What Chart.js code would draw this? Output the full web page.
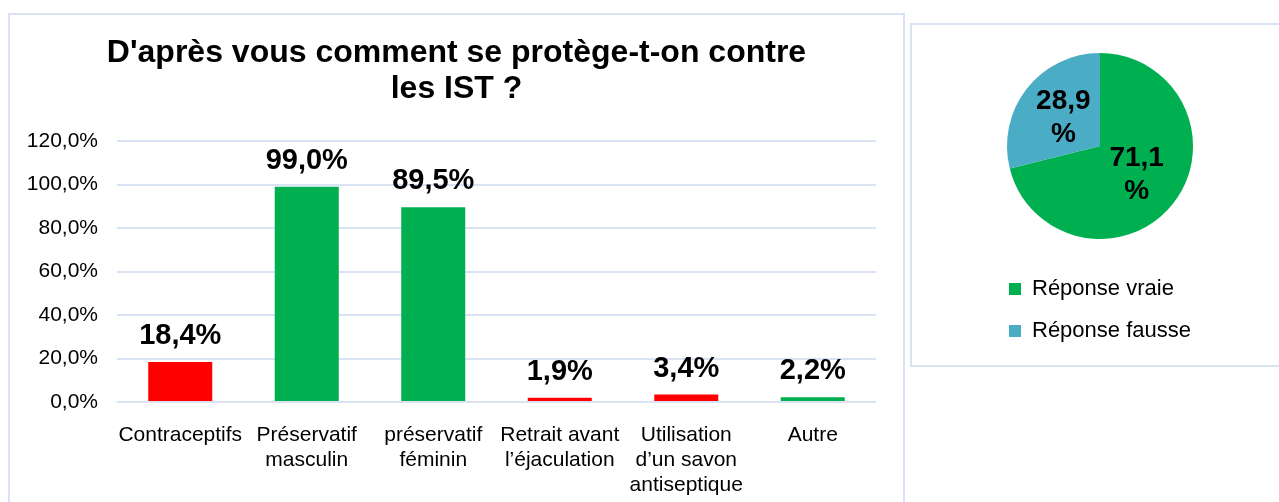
<!DOCTYPE html>
<html>
<head>
<meta charset="utf-8">
<script src="https://cdn.jsdelivr.net/npm/chart.js@4/dist/chart.umd.min.js"></script>
<style>
  body { margin: 0; background: #fff; width: 1279px; height: 502px; overflow: hidden; position: relative; }
  .box { position: absolute; border: 2px solid #dae3f3; box-sizing: border-box; }
  canvas { position: absolute; }
</style>
</head>
<body>
<div class="box" style="left:8px; top:13px; width:897px; height:520px;"></div>
<div class="box" style="left:910px; top:23px; width:400px; height:344px;"></div>
<canvas id="barChart" width="897" height="488" style="left:8px; top:14px;"></canvas>
<canvas id="pieChart" width="222" height="318" style="left:989px; top:34px;"></canvas>
<script>
// Data
const categories = [
  'Contraceptifs',
  ['Préservatif', 'masculin'],
  ['préservatif', 'féminin'],
  ['Retrait avant', 'l’éjaculation'],
  ['Utilisation', 'd’un savon', 'antiseptique'],
  'Autre'
];
const percentages = [18.4, 99.0, 89.5, 1.9, 3.4, 2.2];
const barColors = ['#ff0000', '#00b050', '#00b050', '#ff0000', '#ff0000', '#00b050'];
const yTicks = [0, 20, 40, 60, 80, 100, 120];

const pieLabels = ['Réponse vraie', 'Réponse fausse'];
const pieValues = [71.1, 28.9];
const pieColors = ['#00b050', '#4bacc6'];

const fmt = v => v.toFixed(1).replace('.', ',') + '%';

Chart.defaults.font.family = 'Arial, "Liberation Sans", sans-serif';
Chart.defaults.color = '#000';

// value labels above the bars
const barLabels = {
  id: 'barLabels',
  afterDatasetsDraw(chart) {
    const ctx = chart.ctx;
    ctx.save();
    ctx.font = 'bold 29px Arial, "Liberation Sans", sans-serif';
    ctx.fillStyle = '#000';
    ctx.textAlign = 'center';
    ctx.textBaseline = 'alphabetic';
    chart.getDatasetMeta(0).data.forEach((bar, i) => {
      ctx.fillText(fmt(percentages[i]), bar.x, bar.y - 18);
    });
    ctx.restore();
  }
};

// labels inside the pie slices
const pieText = {
  id: 'pieText',
  afterDatasetsDraw(chart) {
    const ctx = chart.ctx;
    ctx.save();
    ctx.font = 'bold 28px Arial, "Liberation Sans", sans-serif';
    ctx.fillStyle = '#000';
    ctx.textAlign = 'center';
    ctx.textBaseline = 'middle';
    chart.getDatasetMeta(0).data.forEach((arc, i) => {
      const p = arc.tooltipPosition();
      ctx.fillText(pieValues[i].toFixed(1).replace('.', ','), p.x, p.y - 16);
      ctx.fillText('%', p.x, p.y + 17);
    });
    ctx.restore();
  }
};

new Chart(document.getElementById('barChart'), {
  type: 'bar',
  data: {
    labels: categories,
    datasets: [{
      data: percentages,
      backgroundColor: barColors,
      categoryPercentage: 1,
      barPercentage: 0.506
    }]
  },
  options: {
    responsive: false,
    animation: false,
    events: [],
    layout: { padding: 0 },
    plugins: {
      legend: { display: false },
      tooltip: { enabled: false },
      title: {
        display: true,
        text: ["D'après vous comment se protège-t-on contre", 'les IST ?'],
        color: '#000',
        font: { size: 32, weight: 'bold', lineHeight: 1.125 },
        padding: { top: 21, bottom: 34 }
      }
    },
    scales: {
      x: {
        grid: { display: false },
        border: { display: false },
        ticks: {
          padding: 13,
          maxRotation: 0,
          autoSkip: false,
          font: { size: 21, lineHeight: 1.19 }
        },
        afterFit: s => { s.height = 100; }
      },
      y: {
        min: 0,
        max: 120,
        afterBuildTicks: s => { s.ticks = yTicks.map(v => ({ value: v })); },
        grid: { color: '#dae3f3', lineWidth: 2, drawTicks: false },
        border: { display: false },
        ticks: {
          padding: 19,
          font: { size: 21 },
          callback: v => fmt(v)
        },
        afterFit: s => { s.width = 109; }
      },
      // empty right axis, only keeps a margin right of the plot
      yRight: {
        position: 'right',
        min: 0,
        max: 120,
        grid: { display: false },
        border: { display: false },
        ticks: { display: false },
        afterFit: s => { s.width = 29; }
      }
    }
  },
  plugins: [barLabels]
});

new Chart(document.getElementById('pieChart'), {
  type: 'pie',
  data: {
    labels: pieLabels,
    datasets: [{
      data: pieValues,
      backgroundColor: pieColors,
      borderWidth: 0,
      radius: 93
    }]
  },
  options: {
    responsive: false,
    animation: false,
    events: [],
    plugins: {
      tooltip: { enabled: false },
      legend: {
        position: 'bottom',
        align: 'start',
        labels: {
          boxWidth: 12,
          boxHeight: 12,
          padding: 20,
          color: '#000',
          font: { size: 22 }
        }
      }
    }
  },
  plugins: [pieText]
});
</script>
</body>
</html>
